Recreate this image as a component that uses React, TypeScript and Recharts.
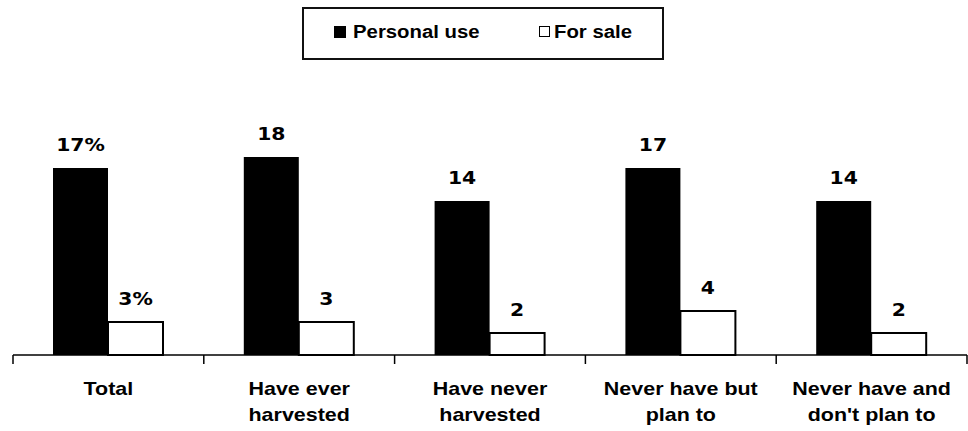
import { BarChart, Bar, XAxis, YAxis, LabelList } from "recharts";

const categories = [
  "Total",
  "Have ever\nharvested",
  "Have never\nharvested",
  "Never have but\nplan to",
  "Never have and\ndon't plan to",
];
const personalUse = [17, 18, 14, 17, 14];
const forSale = [3, 3, 2, 4, 2];
const seriesNames = ["Personal use", "For sale"];

const data = categories.map((name, i) => ({
  name,
  personal: personalUse[i],
  sale: forSale[i],
}));

const W = 968;
const H = 431;
const MARGIN = { top: 135, right: 1, bottom: 0, left: 13 };
const STRETCH = 1.13;

// eslint-disable-next-line @typescript-eslint/no-explicit-any
function CategoryTick({ x, y, payload, index }: any) {
  const band = (W - MARGIN.left - MARGIN.right) / categories.length;
  const lines = String(payload.value).split("\n");
  return (
    <g>
      <line x1={x - band / 2} x2={x - band / 2} y1={y} y2={y + 9} stroke="#000" strokeWidth={1.5} />
      {index === categories.length - 1 && (
        <line x1={x + band / 2} x2={x + band / 2} y1={y} y2={y + 9} stroke="#000" strokeWidth={1.5} />
      )}
      {lines.map((line, i) => (
        <text
          key={i}
          transform={`translate(${x},${y + 33 + i * 26}) scale(${STRETCH},1)`}
          textAnchor="middle"
          dominantBaseline="central"
          fontFamily="'Liberation Sans', Arial, sans-serif"
          fontWeight="bold"
          fontSize={19}
          fill="#000"
        >
          {line}
        </text>
      ))}
    </g>
  );
}

// eslint-disable-next-line @typescript-eslint/no-explicit-any
function ValueLabel({ x, y, width, value, index }: any) {
  const text = index === 0 ? `${value}%` : String(value);
  return (
    <text
      transform={`translate(${x + width / 2},${y - 23}) scale(${STRETCH},1)`}
      textAnchor="middle"
      dominantBaseline="central"
      fontFamily="'DejaVu Sans', Verdana, sans-serif"
      fontWeight="bold"
      fontSize={18}
      fill="#000"
    >
      {text}
    </text>
  );
}

function LegendBox() {
  const font = {
    fontFamily: "'Liberation Sans', Arial, sans-serif",
    fontWeight: "bold" as const,
    fontSize: 18,
    transform: `scaleX(${STRETCH})`,
    transformOrigin: "left center",
    position: "absolute" as const,
    top: 12,
    lineHeight: "22px",
  };
  return (
    <div
      style={{
        position: "absolute",
        left: 302,
        top: 7,
        width: 358,
        height: 49,
        border: "2px solid #111",
        background: "#fff",
      }}
    >
      <span style={{ position: "absolute", left: 30, top: 17, width: 12, height: 12, background: "#000" }} />
      <span style={{ ...font, left: 49 }}>{seriesNames[0]}</span>
      <span
        style={{
          position: "absolute",
          left: 235,
          top: 17,
          width: 9,
          height: 9,
          background: "#fff",
          border: "1.5px solid #000",
        }}
      />
      <span style={{ ...font, left: 250 }}>{seriesNames[1]}</span>
    </div>
  );
}

export default function App() {
  return (
    <div style={{ position: "absolute", left: 0, top: 0, width: W, height: H, background: "#fff" }}>
      <BarChart width={W} height={H} data={data} margin={MARGIN} barGap={0} barSize={55}>
        <XAxis
          dataKey="name"
          axisLine={{ stroke: "#000", strokeWidth: 1.5 }}
          tickLine={false}
          tickSize={0}
          tickMargin={0}
          interval={0}
          tick={<CategoryTick />}
          height={76}
        />
        <YAxis hide domain={[0, 20]} />
        <Bar dataKey="personal" name={seriesNames[0]} fill="#000" isAnimationActive={false}>
          <LabelList dataKey="personal" content={<ValueLabel />} />
        </Bar>
        <Bar
          dataKey="sale"
          name={seriesNames[1]}
          fill="#fff"
          stroke="#000"
          strokeWidth={2}
          isAnimationActive={false}
        >
          <LabelList dataKey="sale" content={<ValueLabel />} />
        </Bar>
      </BarChart>
      <LegendBox />
    </div>
  );
}
